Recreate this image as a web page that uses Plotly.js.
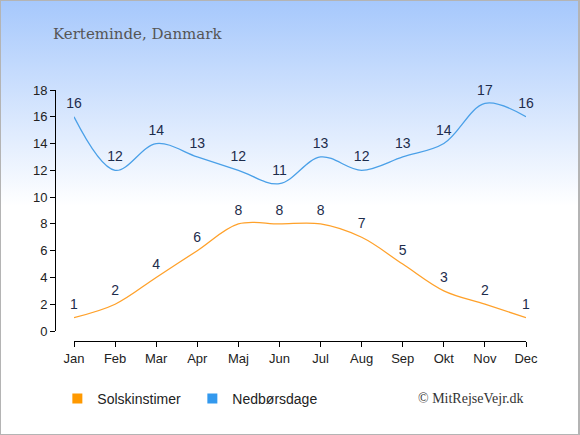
<!DOCTYPE html>
<html><head><meta charset="utf-8">
<script src="https://cdn.plot.ly/plotly-3.0.1.min.js"></script>
<style>
html,body{margin:0;padding:0;}
#wrap{width:580px;height:435px;box-sizing:border-box;border:1px solid #b4b4b4;border-right:2px solid #b4b4b4;
background:linear-gradient(to bottom,#a6c8fc 0px,#ffffff 205px,#ffffff 435px);}
#chart{width:577px;height:433px;}
</style></head><body>
<div id="wrap"><div id="chart"></div></div>
<script>
const months = ["Jan","Feb","Mar","Apr","Maj","Jun","Jul","Aug","Sep","Okt","Nov","Dec"];
const solskinstimer = [1,2,4,6,8,8,8,7,5,3,2,1];
const nedborsdage = [16,12,14,13,12,11,13,12,13,14,17,16];
const yTicks = [0,2,4,6,8,10,12,14,16,18];
const seriesNames = ["Solskinstimer","Nedbørsdage"];
const colors = ["#ffa12a","#4aa0e8"];
const legendColors = ["#ff9900","#3399ee"];

const labelFont = {family:"Liberation Sans, Arial, sans-serif", size:14, color:"#1d2c4c"};
function lineTrace(y, i){
  return {x:months, y:y, type:"scatter", mode:"lines+markers+text", text:y.map(String),
    textposition:"top center", textfont:labelFont,
    marker:{size:7, opacity:0, color:colors[i]},
    line:{color:colors[i], width:1.3, shape:"spline", smoothing:1},
    showlegend:false, hoverinfo:"skip", cliponaxis:false};
}
function legendTrace(i){
  return {x:[null], y:[null], type:"scatter", mode:"markers", name:seriesNames[i],
    marker:{symbol:"square", size:10, color:legendColors[i]}, showlegend:true};
}
const data = [lineTrace(solskinstimer,0), lineTrace(nedborsdage,1), legendTrace(0), legendTrace(1)];
const tickFont = {family:"Liberation Sans, Arial, sans-serif", size:13, color:"#222"};
const layout = {
  width:577, height:433,
  margin:{l:54, r:52, t:89, b:93, pad:0},
  paper_bgcolor:"rgba(0,0,0,0)", plot_bgcolor:"rgba(0,0,0,0)",
  xaxis:{type:"category", categoryarray:months, range:[0,11], domain:[19/471,1],
    anchor:"free", position:0, showline:true, linecolor:"#000", linewidth:1,
    ticks:"outside", ticklen:5, tickcolor:"#000", showgrid:false, zeroline:false,
    tickfont:tickFont, fixedrange:true},
  yaxis:{range:[0,18], tickvals:yTicks, domain:[10/251,1], anchor:"free", position:0,
    showline:true, linecolor:"#000", linewidth:1, ticks:"outside", ticklen:5, tickcolor:"#000",
    showgrid:false, zeroline:false, tickfont:tickFont, fixedrange:true},
  showlegend:true,
  legend:{orientation:"h", x:0.005, xanchor:"left", y:-0.231, yanchor:"middle",
    bgcolor:"rgba(0,0,0,0)", font:{family:"Liberation Sans, Arial, sans-serif", size:14, color:"#222"},
    entrywidth:90},
  annotations:[
    {text:"Kerteminde, Danmark", xref:"paper", yref:"paper", x:-0.008, y:1+(89-33)/251,
     xanchor:"left", yanchor:"middle", showarrow:false,
     font:{family:"DejaVu Serif, serif", size:15, color:"#555"}},
    {text:"© MitRejseVejr.dk", xref:"paper", yref:"paper", x:1, y:-0.231,
     xanchor:"right", yanchor:"middle", showarrow:false,
     font:{family:"Liberation Serif, serif", size:14, color:"#333"}}
  ]
};
Plotly.newPlot("chart", data, layout, {displayModeBar:false, staticPlot:true});
</script></body></html>
